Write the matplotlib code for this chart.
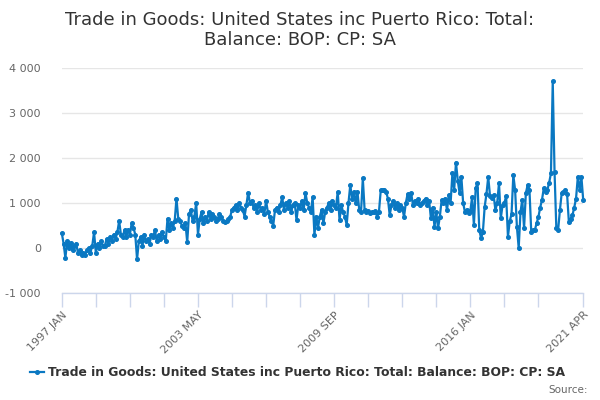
import numpy as np
import matplotlib
matplotlib.use("Agg")
import matplotlib.pyplot as plt

TITLE = "Trade in Goods: United States inc Puerto Rico: Total:\nBalance: BOP: CP: SA"
SERIES = "Trade in Goods: United States inc Puerto Rico: Total: Balance: BOP: CP: SA"

# monthly values, 1997 JAN .. 2021 APR
y1997 = [330, 100, -220, 150, 0, 120, -50, 50, 100, -100, -50, -150]
y1998 = [-100, -150, -50, 0, -100, 50, 350, -100, 100, 0, 150, 50]
y1999 = [50, 200, 100, 250, 150, 300, 200, 350, 600, 300, 250, 400]
y2000 = [250, 400, 300, 550, 450, 300, -250, 150, 250, 50, 300, 150]
y2001 = [200, 100, 300, 250, 400, 150, 300, 200, 350, 250, 150, 650]
y2002 = [400, 550, 450, 600, 1100, 650, 600, 500, 450, 550, 130, 750]
y2003 = [850, 600, 700, 1000, 300, 650, 800, 550, 700, 600, 800, 650]
y2004 = [750, 700, 600, 650, 750, 700, 600, 580, 600, 650, 700, 850]
y2005 = [900, 950, 850, 1000, 900, 850, 700, 950, 1230, 1000, 1050, 900]
y2006 = [950, 800, 1000, 850, 900, 750, 1050, 800, 700, 600, 500, 850]
y2007 = [900, 800, 950, 1130, 850, 1000, 900, 1050, 800, 950, 1000, 620]
y2008 = [950, 900, 1050, 850, 1220, 1000, 900, 800, 1130, 290, 700, 450]
y2009 = [700, 850, 550, 800, 900, 1000, 850, 1050, 950, 900, 1250, 620]
y2010 = [950, 800, 700, 510, 1000, 1400, 1100, 1250, 1000, 1250, 850, 800]
y2011 = [1550, 850, 800, 820, 780, 800, 790, 820, 690, 800, 1280, 1300]
y2012 = [1300, 1250, 1100, 730, 950, 1050, 900, 1000, 850, 950, 900, 690]
y2013 = [1000, 1200, 1100, 1220, 950, 1050, 1000, 1100, 950, 1000, 1050, 1100]
y2014 = [950, 1050, 660, 900, 470, 800, 440, 700, 1070, 1000, 1100, 840]
y2015 = [1180, 1000, 1660, 1300, 1900, 1500, 1220, 1580, 1000, 800, 850, 780]
y2016 = [820, 1130, 510, 1330, 1440, 400, 220, 350, 910, 1200, 1580, 1150]
y2017 = [1110, 1180, 840, 1000, 1440, 660, 950, 1000, 1150, 250, 600, 750]
y2018 = [1620, 1290, 470, 0, 800, 1070, 440, 1220, 1400, 1300, 360, 400]
y2019 = [400, 550, 690, 900, 1070, 1330, 1250, 1290, 1450, 1660, 3700, 1700]
y2020 = [440, 400, 840, 1220, 1250, 1290, 1200, 580, 650, 730, 900, 1100]
y2021 = [1580, 1290, 1580, 1070]

values = (y1997 + y1998 + y1999 + y2000 + y2001 + y2002 + y2003 + y2004
          + y2005 + y2006 + y2007 + y2008 + y2009 + y2010 + y2011 + y2012
          + y2013 + y2014 + y2015 + y2016 + y2017 + y2018 + y2019 + y2020
          + y2021)

months = ["JAN", "FEB", "MAR", "APR", "MAY", "JUN",
          "JUL", "AUG", "SEP", "OCT", "NOV", "DEC"]
labels = [f"{1997 + i // 12} {months[i % 12]}" for i in range(len(values))]

y_ticks = [-1000, 0, 1000, 2000, 3000, 4000]
y_ticklabels = ["-1 000", "0", "1 000", "2 000", "3 000", "4 000"]

blue = "#0a78c2"
x = np.arange(len(values))

fig = plt.figure(figsize=(6, 4), dpi=100)
ax = fig.add_axes([0.103, 0.2675, 0.869, 0.5625])

ax.plot(x, values, color=blue, linewidth=1.6, marker="o", markersize=2.6,
        zorder=3, clip_on=False)

ax.set_xlim(0, len(values) - 1)
ax.set_ylim(-1000, 4000)
ax.set_yticks(y_ticks)
ax.set_yticklabels(y_ticklabels, fontsize=8, color="#666666")
ax.tick_params(axis="y", length=0, pad=15)
ax.grid(axis="y", color="#e6e6e6", linewidth=1)
ax.set_axisbelow(True)

tick_pos = list(range(0, 267, 19)) + [len(values) - 1]
ax.set_xticks(tick_pos)
ax.set_xticklabels([labels[p] if (p % 76 == 0 or p == len(values) - 1) else ""
                    for p in tick_pos],
                   rotation=45, ha="right", rotation_mode="anchor",
                   fontsize=8, color="#666666")
ax.tick_params(axis="x", length=10, color="#ccd6eb", width=1, pad=2)

for s in ["top", "right", "left"]:
    ax.spines[s].set_visible(False)
ax.spines["bottom"].set_color("#ccd6eb")
ax.spines["bottom"].set_linewidth(1)

fig.text(0.5, 0.925, TITLE, ha="center", va="center", fontsize=13,
         color="#333333", linespacing=1.2)

# legend
fig.lines.append(plt.Line2D([0.05, 0.073], [0.07, 0.07], color=blue,
                            linewidth=1.6, transform=fig.transFigure))
fig.lines.append(plt.Line2D([0.0615], [0.07], color=blue, marker="o",
                            markersize=2.6, transform=fig.transFigure))
fig.text(0.08, 0.07, SERIES, ha="left", va="center", fontsize=8.9,
         fontweight="bold", color="#333333")
fig.text(0.98, 0.025, "Source:", ha="right", va="center", fontsize=7.5,
         color="#666666")

fig.savefig("out.png", dpi=100)
